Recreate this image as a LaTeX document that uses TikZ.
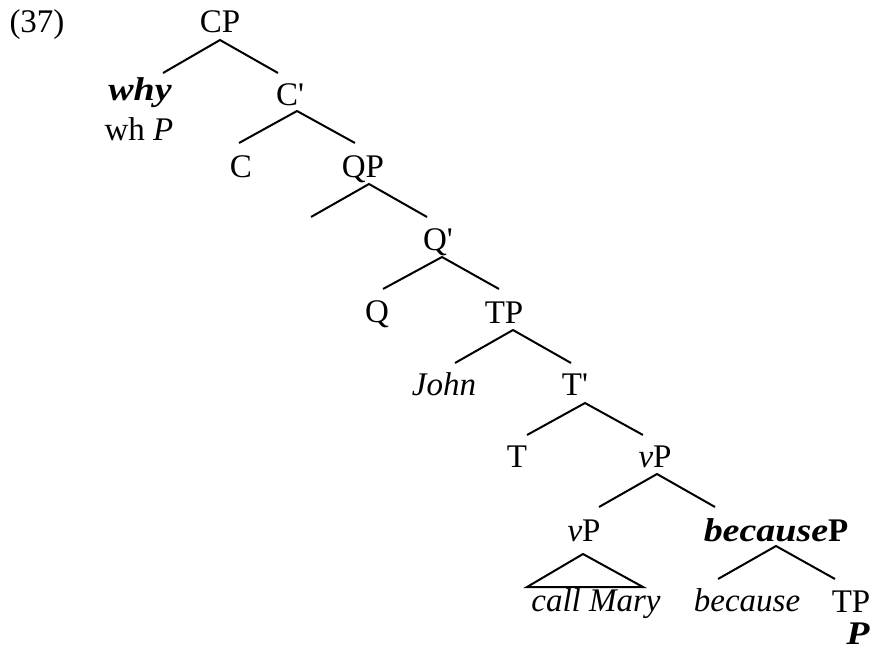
\documentclass[tikz,border=0pt]{standalone}
\usepackage{fontspec}
\setmainfont{Liberation Serif}
\newfontfamily\bifont[FakeStretch=1.15]{Liberation Serif}
\newfontfamily\sqfont[Ligatures=TeXOff]{Liberation Serif}
\begin{document}
\begin{tikzpicture}[x=1pt,y=-1pt]
\tikzset{
  lbl/.style={anchor=base, inner sep=0pt, font=\fontsize{33}{40}\selectfont},
  br/.style={line width=2pt, line join=miter}
}
\useasboundingbox (0,0) rectangle (874,648);
% labels
\node[lbl] (ex) at (37,32) {(37)};
\node[lbl] (CP) at (220,32) {CP};
\node[lbl] (why) at (140,100) {\bifont\bfseries\itshape why};
\node[lbl] (whP) at (139,140) {wh \textit{P}};
\node[lbl] (Cbar) at (290,105) {C{\sqfont'}};
\node[lbl] (C) at (241,177) {C};
\node[lbl] (QP) at (363,177) {QP};
\node[lbl] (Qbar) at (438,250) {Q{\sqfont'}};
\node[lbl] (Q) at (377,322) {Q};
\node[lbl] (TP) at (504,323) {TP};
\node[lbl] (John) at (444,395) {\textit{John}};
\node[lbl] (Tbar) at (575,395) {T{\sqfont'}};
\node[lbl] (T) at (517,467) {T};
\node[lbl] (vP) at (655,467) {\textit{v}P};
\node[lbl] (vPl) at (584,541) {\textit{v}P};
\node[lbl] (becP) at (776,541) {{\bifont\bfseries\itshape because}\textbf{P}};
\node[lbl] (cm) at (596,611) {\textit{call Mary}};
\node[lbl] (bec) at (747,611) {\textit{because}};
\node[lbl] (TPl) at (851,612) {TP};
\node[lbl] (Pb) at (858,644) {\bifont\bfseries\itshape P};
% branch points
\coordinate (CP-a) at (220,40);
\coordinate (why-t) at (163,73);
\coordinate (Cbar-t) at (278,73);
\coordinate (Cbar-a) at (297,111);
\coordinate (C-t) at (239,143);
\coordinate (QP-t) at (355,143);
\coordinate (QP-a) at (369,184);
\coordinate (spec-t) at (311,217);
\coordinate (Qbar-t) at (427,217);
\coordinate (Qbar-a) at (442,257);
\coordinate (Q-t) at (383,289);
\coordinate (TP-t) at (499,289);
\coordinate (TP-a) at (513,330);
\coordinate (John-t) at (455,363);
\coordinate (Tbar-t) at (571,363);
\coordinate (Tbar-a) at (585,403);
\coordinate (T-t) at (527,435);
\coordinate (vP-t) at (643,435);
\coordinate (vP-a) at (657,474);
\coordinate (vPl-t) at (599,507);
\coordinate (becP-t) at (715,507);
\coordinate (vPl-a) at (583,554);
\coordinate (tri-l) at (527,587);
\coordinate (tri-r) at (643,587);
\coordinate (becP-a) at (776,546);
\coordinate (bec-t) at (718,579);
\coordinate (TPl-t) at (835,579);
% branches
\draw[br] (why-t) -- (CP-a) -- (Cbar-t);
\draw[br] (C-t) -- (Cbar-a) -- (QP-t);
\draw[br] (spec-t) -- (QP-a) -- (Qbar-t);
\draw[br] (Q-t) -- (Qbar-a) -- (TP-t);
\draw[br] (John-t) -- (TP-a) -- (Tbar-t);
\draw[br] (T-t) -- (Tbar-a) -- (vP-t);
\draw[br] (vPl-t) -- (vP-a) -- (becP-t);
\draw[br] (tri-l) -- (vPl-a) -- (tri-r) -- cycle;
\draw[br] (bec-t) -- (becP-a) -- (TPl-t);
\end{tikzpicture}
\end{document}
